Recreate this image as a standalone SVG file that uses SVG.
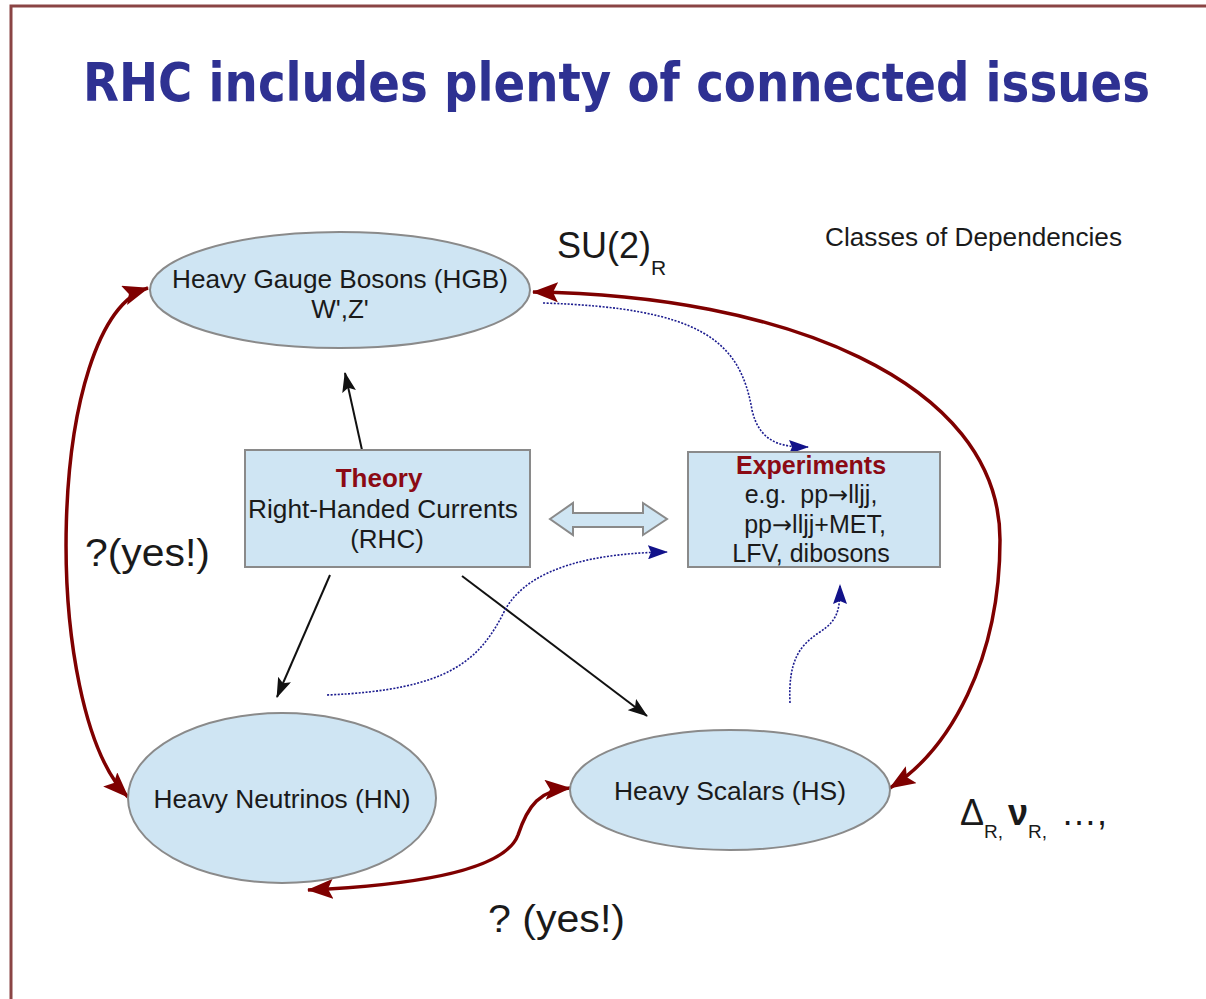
<svg xmlns="http://www.w3.org/2000/svg" width="1206" height="999" viewBox="0 0 1206 999">
  <style>
    .lbl { font-family: "Liberation Sans", Arial, sans-serif; fill: #1a1a1a; }
    .arr { font-family: "DejaVu Sans", sans-serif; }
    .node { fill: #cfe5f3; stroke: #8a8a8a; stroke-width: 2; }
    .head { font-family: "Liberation Sans", Arial, sans-serif; font-weight: bold; fill: #8b0a14; }
    .red { fill: none; stroke: #7f0000; stroke-width: 3.5; marker-start: url(#redHead); marker-end: url(#redHead); }
    .blk { fill: none; stroke: #111; stroke-width: 2; marker-end: url(#blkHead); }
    .dot { fill: none; stroke: #1c1c8f; stroke-width: 1.6; stroke-dasharray: 2 1.5; marker-end: url(#blueHead); }
  </style>
  <defs>
    <marker id="redHead" viewBox="0 0 26 20" refX="25" refY="10" markerWidth="26" markerHeight="20" markerUnits="userSpaceOnUse" orient="auto-start-reverse">
      <path d="M0,0 L26,10 L0,20 L5,10 Z" fill="#7f0000"/>
    </marker>
    <marker id="blkHead" viewBox="0 0 20 14" refX="19" refY="7" markerWidth="20" markerHeight="14" markerUnits="userSpaceOnUse" orient="auto">
      <path d="M0,0 L20,7 L0,14 L4,7 Z" fill="#111"/>
    </marker>
    <marker id="blueHead" viewBox="0 0 20 14" refX="19" refY="7" markerWidth="20" markerHeight="14" markerUnits="userSpaceOnUse" orient="auto">
      <path d="M0,0 L20,7 L0,14 L3,7 Z" fill="#12128a"/>
    </marker>
  </defs>

  <rect width="1206" height="999" fill="#fff"/>
  <!-- slide frame -->
  <path d="M11,999 L11,6 L1206,6" fill="none" stroke="#8a4444" stroke-width="3"/>

  <text x="83" y="101" font-family="'DejaVu Sans Condensed', 'DejaVu Sans', sans-serif" font-stretch="condensed" font-weight="bold" font-size="53" fill="#2e3192" textLength="1067" lengthAdjust="spacingAndGlyphs">RHC includes plenty of connected issues</text>

  <!-- connectors -->
  <g id="connectors">
    <path class="red" d="M148,288 C45,320 40,710 128,797"/>
    <path class="red" d="M533,292 C780,295 1000,380 1000,540 C1000,660 950,750 890,788"/>
    <path class="red" d="M308,890 C420,885 505,870 518,835 C528,805 540,790 570,788"/>
    <path class="blk" d="M362,450 L345,373"/>
    <path class="blk" d="M330,575 L277,697"/>
    <path class="blk" d="M462,576 L647,716"/>
    <path class="dot" d="M543,303 C700,308 740,340 752,410 C760,445 785,447 808,447"/>
    <path class="dot" d="M327,695 C450,690 480,660 505,610 C530,565 600,553 667,552"/>
    <path class="dot" d="M790,703 C788,660 800,645 820,632 C838,620 840,610 840,585"/>
    <path class="node" d="M550,519 L573,503 L573,513 L643,513 L643,503 L667,519 L643,535 L643,527 L573,527 L573,535 Z"/>
  </g>

  <g id="hgb">
    <ellipse class="node" cx="340" cy="290" rx="190" ry="58"/>
    <text class="lbl" x="340" y="288" font-size="26" text-anchor="middle" textLength="336" lengthAdjust="spacingAndGlyphs">Heavy Gauge Bosons (HGB)</text>
    <text class="lbl" x="340" y="318" font-size="26" text-anchor="middle">W',Z'</text>
  </g>

  <g id="theory">
    <rect class="node" x="245" y="450" width="285" height="117"/>
    <text class="head" x="379" y="487" font-size="26" text-anchor="middle">Theory</text>
    <text class="lbl" x="383" y="518" font-size="26" text-anchor="middle" textLength="270" lengthAdjust="spacingAndGlyphs">Right-Handed Currents</text>
    <text class="lbl" x="387" y="548" font-size="26" text-anchor="middle">(RHC)</text>
  </g>

  <g id="experiments">
    <rect class="node" x="688" y="452" width="252" height="115"/>
    <text class="head" x="811" y="474" font-size="25" text-anchor="middle">Experiments</text>
    <text class="lbl" x="811" y="503" font-size="25" text-anchor="middle" xml:space="preserve">e.g.  pp<tspan class="arr" font-size="24">→</tspan>lljj,</text>
    <text class="lbl" x="815" y="533" font-size="25" text-anchor="middle">pp<tspan class="arr" font-size="24">→</tspan>lljj+MET,</text>
    <text class="lbl" x="811" y="562" font-size="25" text-anchor="middle">LFV, dibosons</text>
  </g>

  <g id="hn">
    <ellipse class="node" cx="282" cy="798" rx="154" ry="85"/>
    <text class="lbl" x="282" y="808" font-size="26" text-anchor="middle" textLength="257" lengthAdjust="spacingAndGlyphs">Heavy Neutrinos (HN)</text>
  </g>

  <g id="hs">
    <ellipse class="node" cx="730" cy="790" rx="160" ry="60"/>
    <text class="lbl" x="730" y="800" font-size="26" text-anchor="middle" textLength="232" lengthAdjust="spacingAndGlyphs">Heavy Scalars (HS)</text>
  </g>

  <!-- free labels -->
  <text class="lbl" x="557" y="258" font-size="36">SU(2)<tspan font-size="21" dy="17">R</tspan></text>
  <text class="lbl" x="825" y="246" font-size="26" textLength="297" lengthAdjust="spacingAndGlyphs">Classes of Dependencies</text>
  <text class="lbl" x="85" y="566" font-size="39" textLength="125" lengthAdjust="spacingAndGlyphs">?(yes!)</text>
  <text class="lbl" x="488" y="932" font-size="39" textLength="137" lengthAdjust="spacingAndGlyphs">? (yes!)</text>
  <text class="lbl" x="960" y="825" font-size="36">Δ<tspan font-size="19" dy="13">R,</tspan><tspan dy="-13" dx="5" font-weight="bold">ν</tspan><tspan font-size="19" dy="13">R,</tspan><tspan dy="-13" dx="14">…,</tspan></text>
</svg>
